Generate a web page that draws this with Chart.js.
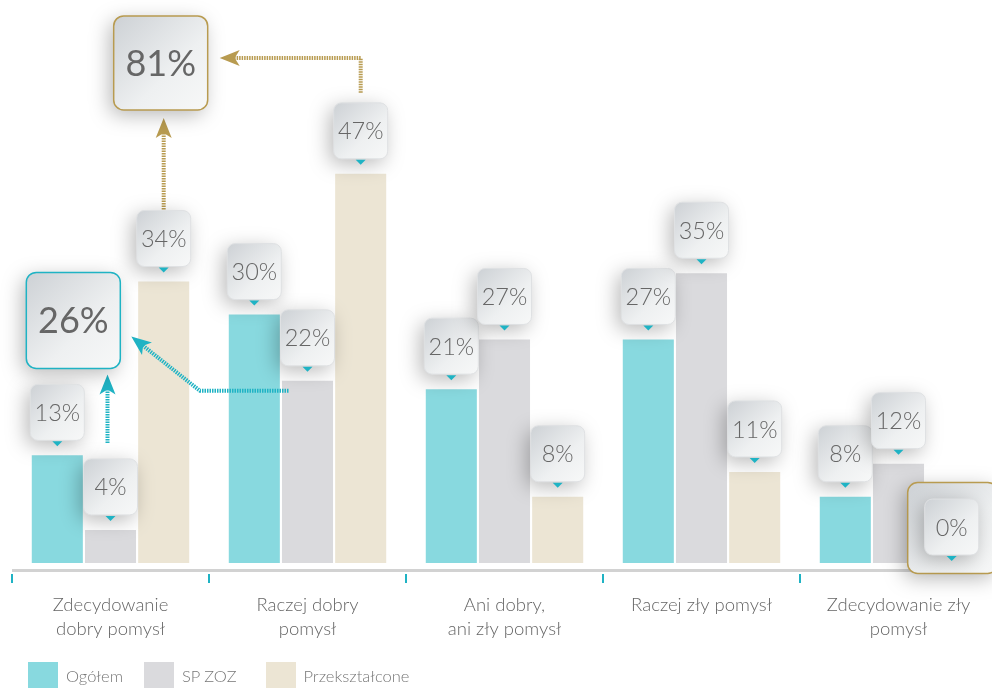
<!DOCTYPE html>
<html lang="pl">
<head>
  <meta charset="UTF-8">
  <title>Ocena pomysłu</title>
  <script src="https://cdn.jsdelivr.net/npm/chart.js"></script>
  <style>
    body { margin: 0; background: #fff; overflow: hidden; }
    #wrap { position: relative; width: 992px; height: 688px; overflow: hidden; }
    #legend { position: absolute; left: 28px; top: 662px; font-family: Lato, sans-serif; font-weight: 300; font-size: 16.5px; color: #777; display: flex; }
    #legend .item { display: flex; align-items: center; }
    #legend .sw { width: 30px; height: 27px; margin-right: 8px; }
  </style>
</head>
<body>
  <div id="wrap">
    <canvas id="chart" width="1000" height="688"></canvas>
    <div id="legend"></div>
  </div>

  <script>
    // ---------------- data ---------------- //
    const categories = [
      ['Zdecydowanie', 'dobry pomysł'],
      ['Raczej dobry', 'pomysł'],
      ['Ani dobry,', 'ani zły pomysł'],
      'Raczej zły pomysł',
      ['Zdecydowanie zły', 'pomysł']
    ];
    const seriesNames = ['Ogółem', 'SP ZOZ', 'Przekształcone'];
    const ogolem = [13, 30, 21, 27, 8];
    const spZoz = [4, 22, 27, 35, 12];
    const przeksztalcone = [34, 47, 8, 11, 0];
    const colors = ['#88d9df', '#dadadd', '#ece5d4'];

    const TEAL = '#1fb3c4';
    const GOLD = '#b89b50';
    const FONT = 'Lato, "Open Sans", sans-serif';

    // legend
    const legend = document.getElementById('legend');
    const legendGaps = [21, 29, 0];
    seriesNames.forEach((n, i) => {
      legend.innerHTML += '<div class="item" style="margin-right:' + legendGaps[i] + 'px"><div class="sw" style="background:' + colors[i] + '"></div>' + n + '</div>';
    });

    // ---------------- drawing helpers ---------------- //
    function roundRect(ctx, x, y, w, h, r) {
      ctx.beginPath();
      ctx.moveTo(x + r, y);
      ctx.arcTo(x + w, y, x + w, y + h, r);
      ctx.arcTo(x + w, y + h, x, y + h, r);
      ctx.arcTo(x, y + h, x, y, r);
      ctx.arcTo(x, y, x + w, y, r);
      ctx.closePath();
    }

    function box(ctx, cx, cy, w, h, text, size, border, weight) {
      const x = cx - w / 2, y = cy - h / 2;
      ctx.save();
      const g = ctx.createLinearGradient(x, y, x + w, y + h);
      g.addColorStop(0, '#cdd1d5');
      g.addColorStop(0.6, '#eef0f1');
      g.addColorStop(1, '#f7f8f8');
      roundRect(ctx, x, y, w, h, Math.min(10, w / 7));
      ctx.shadowColor = 'rgba(0,0,0,0.28)';
      ctx.shadowBlur = 20;
      ctx.shadowOffsetX = -4;
      ctx.shadowOffsetY = 5;
      ctx.fillStyle = g;
      ctx.fill();
      ctx.shadowColor = 'transparent';
      ctx.lineWidth = border ? 1.5 : 1;
      ctx.strokeStyle = border || '#dfe1e3';
      ctx.stroke();
      if (text) {
        ctx.fillStyle = '#666';
        ctx.font = (weight || 300) + ' ' + size + 'px ' + FONT;
        ctx.textAlign = 'center';
        ctx.textBaseline = 'middle';
        ctx.fillText(text, cx, cy + 1);
      }
      ctx.restore();
    }

    function callout(ctx, x, barTop, value) {
      const gap = value === 0 ? 8 : 15;
      const bottom = barTop - gap;
      box(ctx, x, bottom - 28, 54, 56, value + '%', 23.5);
      ctx.save();
      ctx.fillStyle = TEAL;
      ctx.beginPath();
      ctx.moveTo(x - 5, bottom + 1);
      ctx.lineTo(x + 5, bottom + 1);
      ctx.lineTo(x, bottom + 6);
      ctx.closePath();
      ctx.fill();
      ctx.restore();
    }

    function arrow(ctx, pts, color) {
      ctx.save();
      ctx.strokeStyle = color;
      ctx.lineWidth = 4;
      ctx.setLineDash([1.5, 1]);
      ctx.beginPath();
      const n = pts.length;
      const tip = pts[n - 1], prev = pts[n - 2];
      const ang = Math.atan2(tip[1] - prev[1], tip[0] - prev[0]);
      ctx.moveTo(pts[0][0], pts[0][1]);
      for (let i = 1; i < n - 1; i++) ctx.lineTo(pts[i][0], pts[i][1]);
      ctx.lineTo(tip[0] - Math.cos(ang) * 14, tip[1] - Math.sin(ang) * 14);
      ctx.stroke();
      ctx.setLineDash([]);
      // arrow head
      ctx.translate(tip[0], tip[1]);
      ctx.rotate(ang);
      ctx.fillStyle = color;
      ctx.beginPath();
      ctx.moveTo(0, 0);
      ctx.lineTo(-20, -8);
      ctx.lineTo(-15, 0);
      ctx.lineTo(-20, 8);
      ctx.closePath();
      ctx.fill();
      ctx.restore();
    }

    // ---------------- plugin: axis, arrows, callouts ---------------- //
    const decorations = {
      id: 'decorations',
      afterDatasetsDraw(chart) {
        const ctx = chart.ctx;
        const area = chart.chartArea;
        const xs = chart.scales.x, ys = chart.scales.y;
        const bar = (d, i) => chart.getDatasetMeta(d).data[i];

        // axis line + ticks
        ctx.save();
        ctx.fillStyle = '#d2d2d2';
        ctx.fillRect(area.left, area.bottom + 6, area.right - area.left + 10, 3);
        ctx.fillStyle = TEAL;
        categories.forEach((c, i) => {
          const x = xs.getPixelForValue(i) - (xs.getPixelForValue(1) - xs.getPixelForValue(0)) / 2;
          ctx.fillRect(x - 1, area.bottom + 11, 2, 9);
        });
        ctx.restore();

        // summary boxes
        const sumSp = spZoz[0] + spZoz[1];
        const sumPrz = przeksztalcone[0] + przeksztalcone[1];
        const bSp = { cx: bar(0, 0).x + 16, cy: ys.getPixelForValue(29.3) };
        const bPr = { cx: bar(2, 0).x - 3, cy: ys.getPixelForValue(60.4) };

        // arrows (teal: SP ZOZ, gold: Przekształcone)
        const b10 = bar(1, 0), b11 = bar(1, 1);
        arrow(ctx, [[b10.x - 3, b10.y - 87], [b10.x - 3, bSp.cy + 54]], TEAL);
        arrow(ctx, [[b11.x - 19, b11.y + 10], [200, b11.y + 10], [bSp.cx + 58, bSp.cy + 16]], TEAL);
        const b20 = bar(2, 0), b21 = bar(2, 1);
        arrow(ctx, [[b20.x, b20.y - 72], [b20.x, bPr.cy + 55]], GOLD);
        arrow(ctx, [[b21.x, b21.y - 81], [b21.x, bPr.cy - 5], [bPr.cx + 59, bPr.cy - 5]], GOLD);

        box(ctx, bSp.cx, bSp.cy, 94, 96, sumSp + '%', 36, TEAL, 400);
        box(ctx, bPr.cx, bPr.cy, 94, 94, sumPrz + '%', 36, GOLD, 400);

        // highlight frame around the zero value
        const z = bar(2, 4);
        box(ctx, z.x + 1, z.y - 35, 90, 91, '', 0, GOLD);

        // value callouts
        [ogolem, spZoz, przeksztalcone].forEach((vals, d) => {
          vals.forEach((v, i) => {
            const el = bar(d, i);
            callout(ctx, el.x, el.y, v);
          });
        });
      }
    };

    // ---------------- chart ---------------- //
    new Chart(document.getElementById('chart'), {
      type: 'bar',
      data: {
        labels: categories,
        datasets: seriesNames.map((n, i) => ({
          label: n,
          data: [ogolem, spZoz, przeksztalcone][i],
          backgroundColor: colors[i],
          barPercentage: 0.96,
          categoryPercentage: 0.81
        }))
      },
      options: {
        animation: false,
        responsive: false,
        layout: { padding: { left: 12, right: 3, top: 0, bottom: 0 } },
        plugins: { legend: { display: false }, tooltip: { enabled: false } },
        scales: {
          x: {
            grid: { display: false },
            border: { display: false },
            ticks: {
              color: '#666',
              padding: 22,
              font: { family: FONT, size: 18.5, weight: 300, lineHeight: 1.3 },
              maxRotation: 0
            },
            afterFit(s) { s.height = 125; }
          },
          y: {
            display: false,
            min: 0,
            max: 68
          }
        }
      },
      plugins: [decorations]
    });
  </script>
</body>
</html>
